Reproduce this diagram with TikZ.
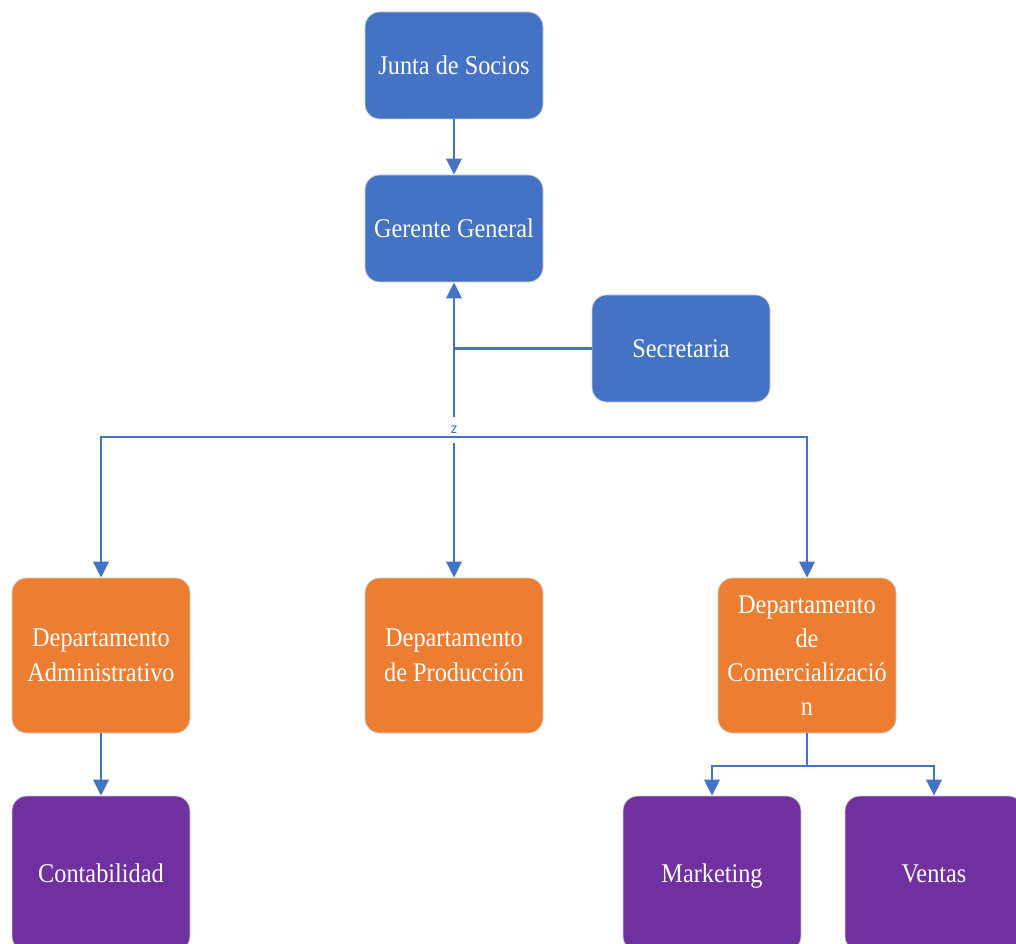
\documentclass[tikz,border=0pt]{standalone}
\usepackage{fontspec}
\setmainfont{Liberation Serif}[FakeStretch=0.9]
\newfontfamily\labelfont{Carlito}
\usetikzlibrary{arrows.meta}
\definecolor{boxblue}{HTML}{4472C4}
\definecolor{boxorange}{HTML}{ED7D31}
\definecolor{boxpurple}{HTML}{7030A0}
\definecolor{linkblue}{HTML}{4472C4}
\definecolor{edgegray}{HTML}{D0D0D0}
\tikzset{
  unit/.style={x=0.75pt,y=-0.75pt},
  orgbox/.style={rectangle, rounded corners=11pt, draw=edgegray, line width=0.6pt,
    minimum width=133.5pt, inner sep=2pt, text=white, align=center,
    font=\fontsize{20.25}{26}\selectfont},
  oneline/.style={text height=17pt, text depth=3pt},
  small/.style={orgbox, minimum height=80.25pt},
  tall/.style={orgbox, minimum height=116.25pt},
  topbox/.style={small, oneline, fill=boxblue},
  deptbox/.style={tall, fill=boxorange},
  subbox/.style={tall, oneline, fill=boxpurple},
  link/.style={draw=linkblue, line width=2pt},
  arrowlink/.style={link, -{Triangle[length=12pt,width=11.5pt]}},
  zlabel/.style={fill=white, text=linkblue, inner sep=0pt, minimum width=14pt,
    minimum height=19pt, font=\labelfont\fontsize{12}{12}\selectfont}
}
\begin{document}
\begin{tikzpicture}[unit]
\useasboundingbox (0,0) rectangle (1016,944);
% management
\node[topbox] (junta) at (454,65.5) {Junta de Socios};
\node[topbox] (ger) at (454,228.5) {Gerente General};
\node[topbox] (sec) at (681,348.5) {Secretaria};
% departments
\node[deptbox] (adm) at (101,655.5) {Departamento\\Administrativo};
\node[deptbox] (prod) at (454,655.5) {Departamento\\de Producción};
\node[deptbox, font=\fontsize{20.25}{25.5}\selectfont] (com) at (807,655.5) {Departamento\\de\\Comercializació\\n};
% sections
\node[subbox] (cont) at (101,873.5) {Contabilidad};
\node[subbox] (mkt) at (712,873.5) {Marketing};
\node[subbox] (ven) at (934,873.5) {Ventas};
% junctions
\coordinate (hub) at (454,437);
\coordinate (cb) at (807,766);
% connectors
\draw[arrowlink] (junta.south) -- (ger.north);
\draw[arrowlink] (hub) -- (ger.south);
\draw[arrowlink] (hub) -- (prod.north);
\draw[link] (sec.west) -- (sec.west -| ger.south);
\node[zlabel] (z) at (454,430) {z};
\draw[arrowlink] (hub) -| (adm.north);
\draw[arrowlink] (hub) -| (com.north);
\draw[arrowlink] (adm.south) -- (cont.north);
\draw[link] (com.south) -- (cb);
\draw[arrowlink] (cb) -| (mkt.north);
\draw[arrowlink] (cb) -| (ven.north);
\end{tikzpicture}
\end{document}
